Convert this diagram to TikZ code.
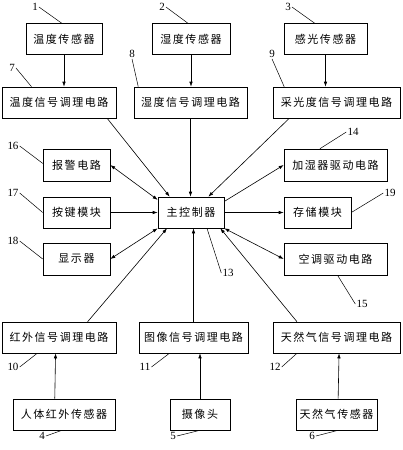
\documentclass[tikz,border=0pt]{standalone}
\usepackage{fontspec}
\setmainfont{Liberation Serif}
\newfontfamily\cjk[LetterSpace=14]{Noto Sans CJK SC}
\usetikzlibrary{arrows.meta,calc}

\begin{document}
\begin{tikzpicture}[x=1pt,y=-1pt,
	box/.style={draw,line width=.6pt,minimum height=31,inner sep=0pt,font=\cjk\fontsize{11}{13}\selectfont},
	num/.style={inner sep=1pt,font=\fontsize{11}{12}\selectfont},
	to/.style={line width=.6pt,-{Latex[length=5pt,width=3.5pt]}},
	both/.style={line width=.6pt,{Latex[length=5pt,width=3.5pt]}-{Latex[length=5pt,width=3.5pt]}},
	lead/.style={line width=.5pt}]
			\useasboundingbox (0,0) rectangle (402,450);
			% sensors, top row
			\node[box,minimum width=76] (s1) at (64,39) {温度传感器};
			\node[box,minimum width=78] (s2) at (191,39) {湿度传感器};
			\node[box,minimum width=83] (s3) at (325.5,39) {感光传感器};
			% signal circuits, top
			\node[box,minimum width=114] (c1) at (59,102.5) {温度信号调理电路};
			\node[box,minimum width=113] (c2) at (190.5,102.5) {湿度信号调理电路};
			\node[box,minimum width=127] (c3) at (336.5,102.5) {采光度信号调理电路};
			% middle
			\node[box,minimum width=66] (mcu) at (191,212.5) {主控制器};
			\node[box,minimum width=67,minimum height=32] (alarm) at (76.5,165) {报警电路};
			\node[box,minimum width=67] (key) at (76.5,212.5) {按键模块};
			\node[box,minimum width=67,minimum height=32] (disp) at (76.5,259) {显示器};
			\node[box,minimum width=103,minimum height=32] (hum) at (335.5,165) {加湿器驱动电路};
			\node[box,minimum width=67] (store) at (317.5,212.5) {存储模块};
			\node[box,minimum width=103,minimum height=32] (ac) at (335.5,259) {空调驱动电路};
			% signal circuits, bottom
			\node[box,minimum width=114] (c4) at (59,337.5) {红外信号调理电路};
			\node[box,minimum width=109] (c5) at (193.5,337.5) {图像信号调理电路};
			\node[box,minimum width=127] (c6) at (336.5,337.5) {天然气信号调理电路};
			% sensors, bottom row
			\node[box,minimum width=102] (s4) at (64,414.5) {人体红外传感器};
			\node[box,minimum width=60] (s5) at (200,414.5) {摄像头};
			\node[box,minimum width=81] (s6) at (336.5,414.5) {天然气传感器};

			\draw[to] (s1.south) -- (s1.south |- c1.north);
			\draw[to] (s2.south) -- (s2.south |- c2.north);
			\draw[to] (s3.south) -- (s3.south |- c3.north);
			\draw[to] ($(c1.south west)!.92!(c1.south east)$) -- ($(mcu.north west)!.18!(mcu.north east)$);
			\draw[to] (c2.south) -- (c2.south |- mcu.north);
			\draw[to] ($(c3.south west)!.13!(c3.south east)$) -- ($(mcu.north west)!.76!(mcu.north east)$);
			\draw[both] ($(mcu.north west)!.1!(mcu.south west)$) -- (alarm.east);
			\draw[to] (key.east) -- (mcu.west);
			\draw[both] (mcu.south west) -- (disp.east);
			\draw[to] ($(mcu.north east)!.15!(mcu.south east)$) -- (hum.west);
			\draw[to] (mcu.east) -- (store.west);
			\draw[both] (mcu.south east) -- (ac.west);
			\draw[to] ($(c4.north west)!.75!(c4.north east)$) -- ($(mcu.south west)!.14!(mcu.south east)$);
			\draw[to] (c5.north) -- (c5.north |- mcu.south);
			\draw[to] ($(c6.north west)!.19!(c6.north east)$) -- ($(mcu.south west)!.94!(mcu.south east)$);
			\draw[to] ($(s4.north west)!.41!(s4.north east)$) -- ($(c4.south west)!.47!(c4.south east)$);
			\draw[to] (s5.north) -- (s5.north |- c5.south);
			\draw[to] ($(s6.north west)!.52!(s6.north east)$) -- ($(c6.south west)!.52!(c6.south east)$);

			% numbers
			\node[num] (n1) at (35,7) {1};
			\node[num] (n2) at (162,7) {2};
			\node[num] (n3) at (288,7) {3};
			\node[num] (n7) at (12,68) {7};
			\node[num] (n8) at (132,54) {8};
			\node[num] (n9) at (272,54) {9};
			\node[num] (n14) at (353,132) {14};
			\node[num] (n16) at (13,146) {16};
			\node[num] (n17) at (13,193) {17};
			\node[num] (n18) at (13,241) {18};
			\node[num] (n19) at (390,193) {19};
			\node[num] (n13) at (228,273) {13};
			\node[num] (n15) at (362,304) {15};
			\node[num] (n10) at (13,367) {10};
			\node[num] (n11) at (145,367) {11};
			\node[num] (n12) at (275,367) {12};
			\node[num] (n4) at (42,436) {4};
			\node[num] (n5) at (173,436) {5};
			\node[num] (n6) at (312,436) {6};
			\draw[lead] (n1.east) -- ($(s1.north west)!.47!(s1.north east)$);
			\draw[lead] (n2.east) -- ($(s2.north west)!.46!(s2.north east)$);
			\draw[lead] (n3.east) -- ($(s3.north west)!.37!(s3.north east)$);
			\draw[lead] (n7.east) -- ($(c1.north west)!.26!(c1.north east)$);
			\draw[lead] (n8.south) -- ($(c2.north west)!.04!(c2.north east)$);
			\draw[lead] (n9.south) -- ($(c3.north west)!.09!(c3.north east)$);
			\draw[lead] (n14.west) -- ($(hum.north west)!.35!(hum.north east)$);
			\draw[lead] (n16.east) -- ($(alarm.north west)!.45!(alarm.south west)$);
			\draw[lead] (n17.east) -- (key.west);
			\draw[lead] (n18.east) -- (disp.west);
			\draw[lead] (n19.west) -- (store.east);
			\draw[lead] (n13.west) -- ($(mcu.south west)!.74!(mcu.south east)$);
			\draw[lead] (n15.west) -- ($(ac.south west)!.52!(ac.south east)$);
			\draw[lead] (n10.east) -- ($(c4.south west)!.31!(c4.south east)$);
			\draw[lead] (n11.east) -- ($(c5.south west)!.28!(c5.south east)$);
			\draw[lead] (n12.east) -- ($(c6.south west)!.19!(c6.south east)$);
			\draw[lead] (n4.east) -- ($(s4.south west)!.48!(s4.south east)$);
			\draw[lead] (n5.east) -- (s5.south);
			\draw[lead] (n6.east) -- ($(s6.south west)!.52!(s6.south east)$);
\end{tikzpicture}
\end{document}
